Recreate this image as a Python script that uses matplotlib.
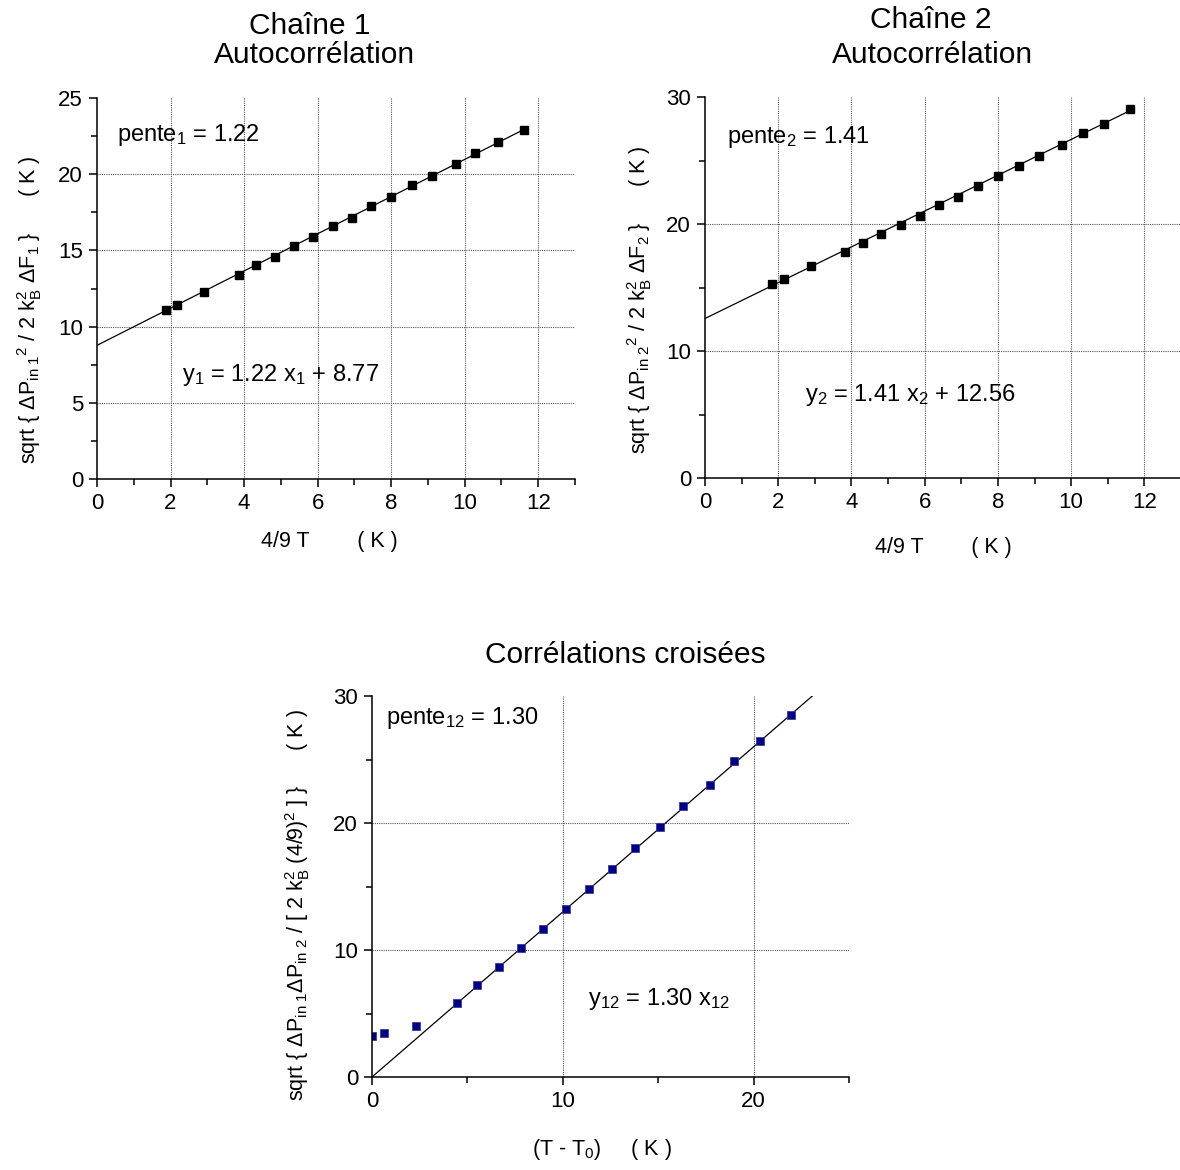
import matplotlib
matplotlib.use("Agg")
import matplotlib.pyplot as plt
import numpy as np

plt.rcParams['font.family'] = ['Liberation Sans', 'DejaVu Sans']
plt.rcParams['mathtext.fontset'] = 'custom'
plt.rcParams['mathtext.rm'] = 'Liberation Sans'
plt.rcParams['mathtext.it'] = 'Liberation Sans'
plt.rcParams['mathtext.default'] = 'rm'

# chaine 1 (autocorrelation)
x1 = [1.87, 2.17, 2.92, 3.86, 4.33, 4.83, 5.37, 5.88, 6.41, 6.93, 7.45, 8.00,
      8.57, 9.12, 9.75, 10.29, 10.90, 11.62]
y1 = [11.09, 11.42, 12.29, 13.39, 14.04, 14.59, 15.27, 15.88, 16.58, 17.13,
      17.91, 18.50, 19.27, 19.86, 20.67, 21.39, 22.09, 22.87]
pente1, ordo1 = 1.22, 8.77

# chaine 2 (autocorrelation)
x2 = [1.82, 2.15, 2.90, 3.83, 4.31, 4.82, 5.34, 5.86, 6.39, 6.91, 7.45, 8.00,
      8.57, 9.12, 9.75, 10.31, 10.91, 11.62]
y2 = [15.24, 15.69, 16.66, 17.82, 18.53, 19.19, 19.94, 20.65, 21.47, 22.15,
      23.02, 23.76, 24.60, 25.36, 26.23, 27.15, 27.90, 29.06]
pente2, ordo2 = 1.41, 12.56

# correlations croisees
x12 = [0.00, 0.63, 2.31, 4.43, 5.51, 6.63, 7.81, 8.97, 10.19, 11.35, 12.57,
       13.79, 15.09, 16.31, 17.71, 18.96, 20.33, 21.94]
y12 = [3.23, 3.46, 4.02, 5.86, 7.22, 8.64, 10.13, 11.63, 13.23, 14.78, 16.41,
       18.03, 19.66, 21.31, 22.97, 24.88, 26.46, 28.48]
pente12 = 1.30

W, H = 1180, 1170
fig = plt.figure(figsize=(W / 100, H / 100), dpi=100)


def axes_px(l, t, r, b):
    return fig.add_axes([l / W, 1 - b / H, (r - l) / W, (b - t) / H])


def style(ax, xmax, xmaj, ymax, ymaj):
    ax.set_xlim(0, xmax)
    ax.set_ylim(0, ymax)
    ax.set_xticks(np.arange(0, xmax + 0.01, xmaj))
    ax.set_xticks(np.arange(0, xmax + 0.01, xmaj / 2), minor=True)
    ax.set_yticks(np.arange(0, ymax + 0.01, ymaj))
    ax.set_yticks(np.arange(0, ymax + 0.01, ymaj / 2), minor=True)
    for s in ['top', 'right']:
        ax.spines[s].set_visible(False)
    for s in ['left', 'bottom']:
        ax.spines[s].set_linewidth(1.1)
    ax.tick_params(which='major', length=6, width=1.1, labelsize=16, pad=4)
    ax.tick_params(which='minor', length=4, width=1.1)
    # grille pointillee, sans les bords
    for v in np.arange(xmaj, xmax + 0.01, xmaj):
        ax.axvline(v, color='#555555', lw=0.8, ls=(0, (1, 1)), zorder=0)
    for v in np.arange(ymaj, ymax - 0.01, ymaj):
        ax.axhline(v, color='#555555', lw=0.8, ls=(0, (1, 1)), zorder=0)


# ---- chaine 1
ax1 = axes_px(97, 98, 575, 479)
style(ax1, 13, 2, 25, 5)
xl = np.array([0, x1[-1]])
ax1.plot(xl, pente1 * xl + ordo1, color='black', lw=0.9)
ax1.plot(x1, y1, 's', color='black', ms=6)
ax1.text(0.54, 22.2, 'pente$_{1}$ = 1.22', fontsize=17)
ax1.text(2.3, 6.45, 'y$_{1}$ = 1.22 x$_{1}$ + 8.77', fontsize=17)
fig.text(310 / W, 1 - 26 / H, 'Chaîne 1', fontsize=21.5, ha='center', va='center')
fig.text(315 / W, 1 - 55 / H, 'Autocorrélation', fontsize=21.5, ha='center', va='center')
fig.text(329 / W, 1 - 541 / H, '4/9 T        ( K )', fontsize=15.5, ha='center', va='center')
fig.text(30 / W, 1 - 310 / H,
         'sqrt { ΔP$_{\\mathrm{in\\ 1}}$$^{2}$ / 2 k$_{\\mathrm{B}}^{2}$ ΔF$_{1}$ }      ( K )',
         fontsize=15.5, rotation=90, ha='center', va='center')

# ---- chaine 2
ax2 = axes_px(705, 97, 1181, 478)
style(ax2, 13, 2, 30, 10)
xl = np.array([0, x2[-1]])
ax2.plot(xl, pente2 * xl + ordo2, color='black', lw=0.9)
ax2.plot(x2, y2, 's', color='black', ms=5.5)
ax2.text(0.59, 26.4, 'pente$_{2}$ = 1.41', fontsize=17)
ax2.text(2.73, 6.03, 'y$_{2}$ = 1.41 x$_{2}$ + 12.56', fontsize=17)
fig.text(931 / W, 1 - 20 / H, 'Chaîne 2', fontsize=21.5, ha='center', va='center')
fig.text(932 / W, 1 - 55 / H, 'Autocorrélation', fontsize=21.5, ha='center', va='center')
fig.text(943 / W, 1 - 548 / H, '4/9 T        ( K )', fontsize=15.5, ha='center', va='center')
fig.text(640 / W, 1 - 300 / H,
         'sqrt { ΔP$_{\\mathrm{in\\ 2}}$$^{2}$ / 2 k$_{\\mathrm{B}}^{2}$ ΔF$_{2}$ }      ( K )',
         fontsize=15.5, rotation=90, ha='center', va='center')

# ---- correlations croisees
ax3 = axes_px(372, 696, 849, 1077)
style(ax3, 25, 10, 30, 10)
xl = np.array([0, 25])
ax3.plot(xl, pente12 * xl, color='black', lw=0.9)
ax3.plot(x12, y12, 's', color='#000080', mec='#3a3a9a', mew=0.6, ms=5.5)
ax3.text(0.72, 27.8, 'pente$_{12}$ = 1.30', fontsize=17)
ax3.text(11.3, 5.65, 'y$_{12}$ = 1.30 x$_{12}$', fontsize=17)
fig.text(625 / W, 1 - 655 / H, 'Corrélations croisées', fontsize=21.5, ha='center', va='center')
fig.text(602 / W, 1 - 1150 / H, '(T - T$_{0}$)     ( K )', fontsize=15.5, ha='center', va='center')
fig.text(298 / W, 1 - 905 / H,
         'sqrt { ΔP$_{\\mathrm{in\\ 1}}$ΔP$_{\\mathrm{in\\ 2}}$ / [ 2 k$_{\\mathrm{B}}^{2}$ (4/9)$^{2}$ ] }      ( K )',
         fontsize=15.5, rotation=90, ha='center', va='center')

fig.savefig('out.png', dpi=100)
